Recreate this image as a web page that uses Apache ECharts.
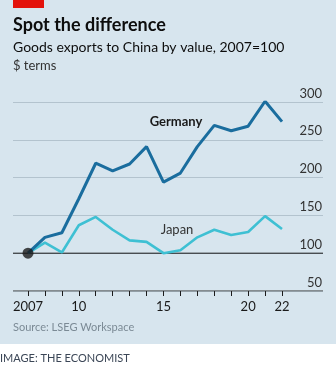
<!DOCTYPE html>
<html><head><meta charset="utf-8">
<script src="https://cdn.jsdelivr.net/npm/echarts@6/dist/echarts.min.js"></script>
<style>html,body{margin:0;padding:0;background:#fff}#c{width:336px;height:372px}</style>
</head><body><div id="c"></div>
<script>
const years = [2007,2008,2009,2010,2011,2012,2013,2014,2015,2016,2017,2018,2019,2020,2021,2022];
const germany = [100,121,127,172,219,209,218,241,194,206,241,269,262,268,301,274];
const japan = [100,114,101,137,148,131,117,115,100,104,121,131,124,128,149,132];
const yTicks = [50,100,150,200,250,300];
const xLabelYears = [2007,2010,2015,2020,2022];

const FONT = 'Lato, "Open Sans", sans-serif';
const chart = echarts.init(document.getElementById('c'), null, {renderer:'canvas'});
const gTop = 102, gHeight = 189;
chart.setOption({
  backgroundColor: '#ffffff',
  animation: false,
  graphic: [
    {type:'rect', shape:{x:0,y:0,width:336,height:344}, style:{fill:'#d7e5ee'}, z:-10},
    {type:'rect', shape:{x:13,y:0,width:31,height:8}, style:{fill:'#e3120b'}},
    {type:'text', left:13, top:16, style:{text:'Spot the difference', font:'bold 18px '+FONT, fill:'#0d0d0d'}},
    {type:'text', left:13, top:40, style:{text:'Goods exports to China by value, 2007=100', font:'14px '+FONT, fill:'#0d0d0d'}},
    {type:'text', left:13, top:59, style:{text:'$ terms', font:'13px '+FONT, fill:'#333333'}},
    {type:'text', left:13, top:322, style:{text:'Source: LSEG Workspace', font:'11px '+FONT, fill:'#7b8a95'}},
    {type:'text', left:0, top:353, style:{text:'IMAGE: THE ECONOMIST', font:'11px '+FONT, fill:'#3b4656'}},
    {type:'text', x:176, y:122, style:{text:'Germany', font:'bold 13px '+FONT, fill:'#1a1a1a', align:'center', verticalAlign:'middle'}},
    {type:'text', x:177, y:230, style:{text:'Japan', font:'13px '+FONT, fill:'#333333', align:'center', verticalAlign:'middle'}}
  ],
  grid: [
    {left:28, width:254, top:gTop, height:gHeight},
    {left:13, width:310, top:gTop, height:gHeight}
  ],
  xAxis: [
    {type:'value', gridIndex:0, min:2007, max:2022, interval:1,
     axisLine:{show:false}, splitLine:{show:false},
     axisTick:{show:true, length:5, lineStyle:{color:'#1a1a1a', width:1}},
     axisLabel:{customValues:xLabelYears, margin:9, color:'#1a1a1a', fontSize:13, fontFamily:FONT,
       formatter:v=> v===2007 ? '2007' : String(v%100).padStart(2,'0')}},
    {type:'value', gridIndex:1, min:0, max:1, show:false}
  ],
  yAxis: [
    {type:'value', gridIndex:0, min:50, max:300, interval:50, show:false},
    {type:'value', gridIndex:1, min:50, max:300, interval:50, position:'right',
     axisLine:{show:false}, axisTick:{show:false},
     splitLine:{show:true, lineStyle:{color:'#b3c3ce', width:1}},
     axisLabel:{inside:true, margin:1, color:'#333333', fontSize:13, fontFamily:FONT,
       verticalAlign:'bottom', padding:[0,0,2,0]}}
  ],
  series: [
    {type:'line', xAxisIndex:1, yAxisIndex:1, data:[[0,100],[1,100]], symbol:'none', silent:true,
     lineStyle:{color:'#1a1a1a', width:1}, z:1},
    {type:'line', xAxisIndex:1, yAxisIndex:1, data:[[0,50],[1,50]], symbol:'none', silent:true,
     lineStyle:{color:'#333333', width:1}, z:1},
    {type:'line', name:'Japan', xAxisIndex:0, yAxisIndex:0, data:years.map((y,i)=>[y,japan[i]]),
     symbol:'none', lineStyle:{color:'#3ec0d3', width:2.6}, z:3},
    {type:'line', name:'Germany', xAxisIndex:0, yAxisIndex:0, data:years.map((y,i)=>[y,germany[i]]),
     symbol:'none', lineStyle:{color:'#1a6d9e', width:3}, z:4},
    {type:'scatter', xAxisIndex:0, yAxisIndex:0, data:[[years[0],germany[0]]], symbolSize:11,
     itemStyle:{color:'#1a1a1a'}, z:5}
  ]
});
</script></body></html>
